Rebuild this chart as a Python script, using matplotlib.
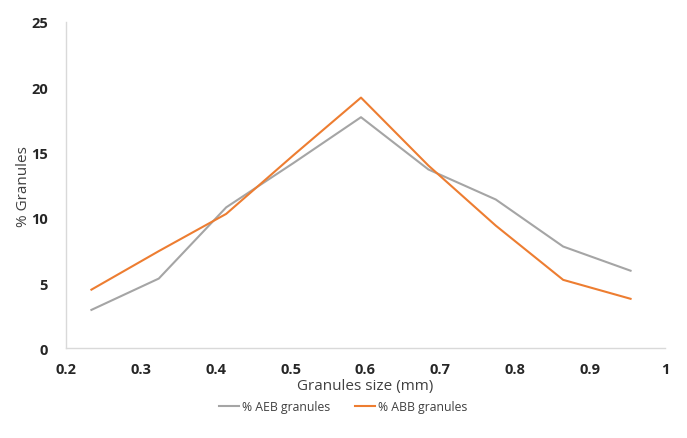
import numpy as np
import matplotlib.pyplot as plt

# granule size (mm) and % of granules in each class
size_mm = [0.234, 0.324, 0.414, 0.504, 0.594, 0.684, 0.774, 0.864, 0.954]
aeb = [2.95, 5.35, 10.8, 14.2, 17.7, 13.7, 11.4, 7.8, 5.95]
abb = [4.5, 7.45, 10.3, 14.8, 19.2, 14.0, 9.4, 5.25, 3.8]

xticks = [0.2, 0.3, 0.4, 0.5, 0.6, 0.7, 0.8, 0.9, 1]
yticks = [0, 5, 10, 15, 20, 25]

plt.rcParams['font.family'] = ['Open Sans', 'DejaVu Sans']

fig = plt.figure(figsize=(6.87, 4.39), dpi=100)
ax = fig.add_axes([0.096, 0.204, 0.872, 0.744])

ax.plot(size_mm, aeb, color='#A5A5A5', lw=1.5, label='% AEB granules')
ax.plot(size_mm, abb, color='#ED7D31', lw=1.5, label='% ABB granules')

ax.set_xlim(0.2, 1)
ax.set_ylim(0, 25)
ax.set_xticks(xticks)
ax.set_xticklabels([str(t) for t in xticks])
ax.set_yticks(yticks)

for s in ['top', 'right']:
    ax.spines[s].set_visible(False)
for s in ['left', 'bottom']:
    ax.spines[s].set_color('#D9D9D9')
    ax.spines[s].set_linewidth(1)

ax.tick_params(length=0, labelsize=10.5, colors='#262626')
ax.tick_params(axis='x', pad=10)
ax.tick_params(axis='y', pad=13)
for lab in ax.get_xticklabels() + ax.get_yticklabels():
    lab.set_fontweight('bold')

ax.set_xlabel('Granules size (mm)', fontsize=11, color='#404040', labelpad=1)
ax.set_ylabel('% Granules', fontsize=11, color='#404040', labelpad=0)

fig.legend(loc='center', bbox_to_anchor=(0.5, 0.072), ncol=2, frameon=False,
           fontsize=8.8, handlelength=1.6, columnspacing=2.0, handletextpad=0.3,
           labelcolor='#404040')

fig.savefig('out.png', dpi=100)
